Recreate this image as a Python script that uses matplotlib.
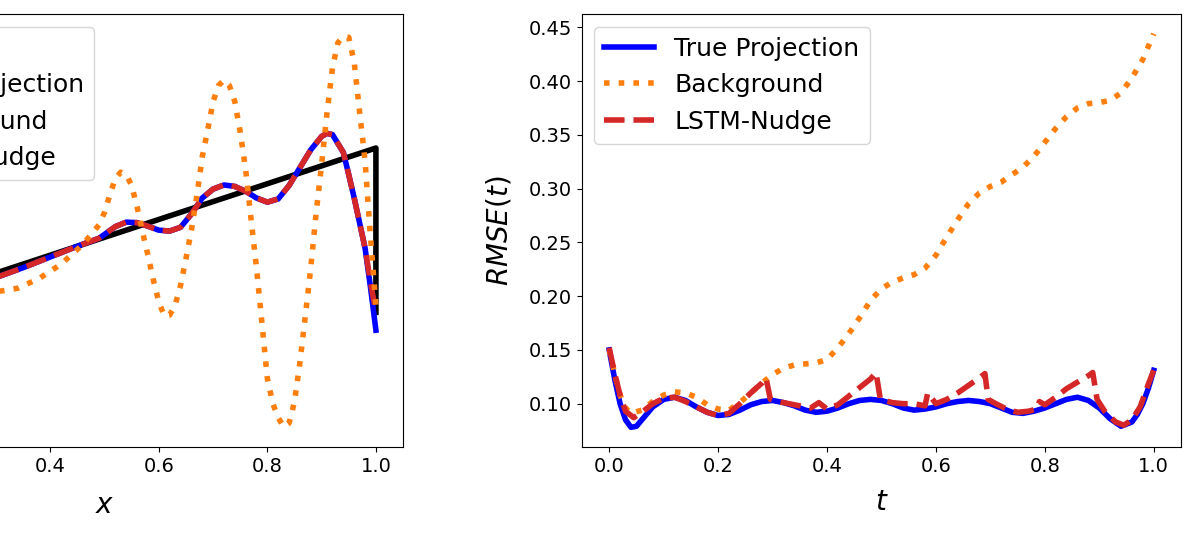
import matplotlib
matplotlib.use("Agg")
import matplotlib.pyplot as plt

# left panel: solution profiles over x
x_truth = [0.0, 1.0, 1.0]
u_truth = [0.0, 1.0, 0.08]

x_proj = [0.0, 0.10, 0.20, 0.30, 0.35, 0.40, 0.45, 0.49, 0.52, 0.54, 0.56, 0.58, 0.60,
          0.62, 0.64, 0.66, 0.68, 0.70, 0.72, 0.74, 0.76, 0.78, 0.80, 0.82, 0.84, 0.86,
          0.88, 0.90, 0.91, 0.92, 0.94, 0.95, 0.96, 0.97, 0.98, 0.99, 1.00]
u_proj = [-0.02, 0.08, 0.18, 0.275, 0.33, 0.39, 0.45, 0.495, 0.56, 0.585, 0.582, 0.562, 0.540,
          0.535, 0.556, 0.63, 0.72, 0.77, 0.793, 0.785, 0.758, 0.72, 0.697, 0.715, 0.79, 0.89,
          0.99, 1.065, 1.082, 1.075, 0.975, 0.85, 0.72, 0.58, 0.44, 0.22, -0.02]
u_lstm = [-0.02, 0.08, 0.18, 0.275, 0.33, 0.39, 0.45, 0.495, 0.56, 0.585, 0.582, 0.562, 0.540,
          0.535, 0.556, 0.63, 0.72, 0.77, 0.793, 0.785, 0.758, 0.72, 0.697, 0.715, 0.79, 0.89,
          0.99, 1.065, 1.082, 1.075, 0.975, 0.85, 0.72, 0.58, 0.44, 0.25, 0.08]

x_bg = [0.00, 0.10, 0.20, 0.26, 0.30, 0.34, 0.38, 0.42, 0.46, 0.49, 0.50, 0.51, 0.52, 0.53,
        0.54, 0.55, 0.56, 0.57, 0.58, 0.59, 0.60, 0.61, 0.62, 0.63, 0.64, 0.65, 0.66, 0.67,
        0.68, 0.69, 0.70, 0.71, 0.72, 0.73, 0.74, 0.75, 0.76, 0.77, 0.78, 0.79, 0.80, 0.81,
        0.82, 0.83, 0.84, 0.85, 0.86, 0.87, 0.88, 0.89, 0.90, 0.91, 0.92, 0.93, 0.94, 0.95,
        0.96, 0.97, 0.98, 0.99, 1.00]
u_bg = [0.02, 0.12, 0.26, 0.24, 0.195, 0.215, 0.27, 0.35, 0.46, 0.57, 0.64, 0.74, 0.83, 0.865,
        0.85, 0.79, 0.67, 0.53, 0.40, 0.26, 0.14, 0.06, 0.065, 0.12, 0.23, 0.38, 0.54, 0.73,
        0.95, 1.10, 1.26, 1.35, 1.38, 1.35, 1.26, 1.09, 0.88, 0.60, 0.33, 0.02, -0.29, -0.43,
        -0.51, -0.56, -0.54, -0.42, -0.20, 0.06, 0.33, 0.64, 0.91, 1.20, 1.45, 1.59, 1.625, 1.62,
        1.48, 1.20, 0.93, 0.50, 0.12]

# right panel: RMSE over time
t_proj = [0.00, 0.01, 0.02, 0.03, 0.04, 0.05, 0.06, 0.08, 0.10, 0.12, 0.14, 0.16, 0.18, 0.20,
          0.22, 0.24, 0.26, 0.28, 0.30, 0.32, 0.34, 0.36, 0.38, 0.40, 0.42, 0.44, 0.46, 0.48,
          0.50, 0.52, 0.54, 0.56, 0.58, 0.60, 0.62, 0.64, 0.66, 0.68, 0.70, 0.72, 0.74, 0.76,
          0.78, 0.80, 0.82, 0.84, 0.86, 0.88, 0.90, 0.92, 0.94, 0.96, 0.97, 0.98, 0.99, 1.00]
rmse_proj = [0.150, 0.123, 0.100, 0.085, 0.078, 0.079, 0.085, 0.097, 0.104, 0.106, 0.103, 0.097,
             0.092, 0.089, 0.090, 0.094, 0.099, 0.102, 0.103, 0.101, 0.098, 0.094, 0.092, 0.093,
             0.096, 0.100, 0.103, 0.104, 0.103, 0.100, 0.096, 0.094, 0.095, 0.097, 0.100, 0.102,
             0.103, 0.102, 0.100, 0.096, 0.092, 0.091, 0.093, 0.096, 0.100, 0.104, 0.106, 0.103,
             0.096, 0.086, 0.079, 0.083, 0.090, 0.100, 0.114, 0.131]

t_bg = [0.00, 0.01, 0.02, 0.03, 0.04, 0.06, 0.08, 0.10, 0.12, 0.14, 0.16, 0.18, 0.20, 0.22,
        0.24, 0.26, 0.28, 0.30, 0.32, 0.34, 0.36, 0.38, 0.40, 0.42, 0.44, 0.46, 0.48, 0.50,
        0.52, 0.54, 0.56, 0.58, 0.60, 0.62, 0.64, 0.66, 0.68, 0.70, 0.72, 0.74, 0.76, 0.78,
        0.80, 0.82, 0.84, 0.86, 0.88, 0.90, 0.92, 0.94, 0.96, 0.98, 1.00]
rmse_bg = [0.150, 0.128, 0.108, 0.096, 0.091, 0.094, 0.102, 0.108, 0.111, 0.110, 0.106, 0.099,
           0.095, 0.094, 0.101, 0.110, 0.119, 0.127, 0.133, 0.136, 0.137, 0.138, 0.141, 0.152,
           0.165, 0.180, 0.196, 0.207, 0.213, 0.217, 0.220, 0.226, 0.238, 0.255, 0.271, 0.286,
           0.296, 0.302, 0.306, 0.313, 0.320, 0.330, 0.343, 0.356, 0.367, 0.375, 0.379, 0.380,
           0.382, 0.389, 0.403, 0.420, 0.444]

t_lstm = [0.000, 0.010, 0.020, 0.030, 0.045, 0.060, 0.080, 0.100, 0.120, 0.140, 0.160, 0.180,
          0.200, 0.220, 0.240, 0.260, 0.280, 0.288, 0.296, 0.310, 0.330, 0.350, 0.370, 0.385,
          0.400, 0.420, 0.440, 0.460, 0.480, 0.490, 0.498, 0.520, 0.540, 0.560, 0.580, 0.585,
          0.600, 0.620, 0.640, 0.660, 0.680, 0.690, 0.696, 0.710, 0.730, 0.750, 0.770, 0.785,
          0.790, 0.800, 0.820, 0.840, 0.860, 0.880, 0.888, 0.896, 0.910, 0.930, 0.945, 0.960,
          0.975, 0.990, 1.000]
rmse_lstm = [0.152, 0.128, 0.108, 0.093, 0.087, 0.092, 0.100, 0.105, 0.106, 0.102, 0.097, 0.092,
             0.089, 0.091, 0.100, 0.110, 0.119, 0.124, 0.104, 0.102, 0.100, 0.098, 0.096, 0.101,
             0.095, 0.099, 0.107, 0.115, 0.123, 0.129, 0.104, 0.101, 0.100, 0.100, 0.098, 0.110,
             0.100, 0.104, 0.110, 0.117, 0.124, 0.128, 0.104, 0.100, 0.095, 0.092, 0.093, 0.095,
             0.102, 0.099, 0.106, 0.114, 0.120, 0.126, 0.129, 0.104, 0.093, 0.083, 0.080, 0.085,
             0.097, 0.118, 0.131]

lw = 4
fig = plt.figure(figsize=(11.96, 5.36), dpi=100)
ax1 = fig.add_axes([-0.1622, 0.166, 0.4992, 0.8078])
ax2 = fig.add_axes([0.4866, 0.166, 0.5008, 0.8078])

ax1.plot(x_truth, u_truth, color='k', lw=lw, label='Truth')
ax1.plot(x_proj, u_proj, color='b', lw=lw, label='True Projection')
ax1.plot(x_bg, u_bg, color='tab:orange', lw=lw, ls=':', label='Background', zorder=2.5)
ax1.plot(x_proj, u_lstm, color='tab:red', lw=lw, ls='--', label='LSTM-Nudge')
ax1.set_ylim(-0.674, 1.750)
ax1.set_xlim(-0.05, 1.05)
ax1.set_xlabel('$x$', fontsize=20, labelpad=11)
ax1.legend(loc='upper left', fontsize=18)
ax1.tick_params(labelsize=14)

ax2.plot(t_proj, rmse_proj, color='b', lw=lw, label='True Projection')
ax2.plot(t_bg, rmse_bg, color='tab:orange', lw=lw, ls=':', label='Background')
ax2.plot(t_lstm, rmse_lstm, color='tab:red', lw=lw, ls='--', label='LSTM-Nudge')
ax2.set_xlabel('$t$', fontsize=20, labelpad=9)
ax2.set_ylabel('$RMSE(t)$', fontsize=20, labelpad=11)
ax2.legend(loc='upper left', fontsize=18)
ax2.tick_params(labelsize=14)

fig.savefig('out.png', dpi=100)
